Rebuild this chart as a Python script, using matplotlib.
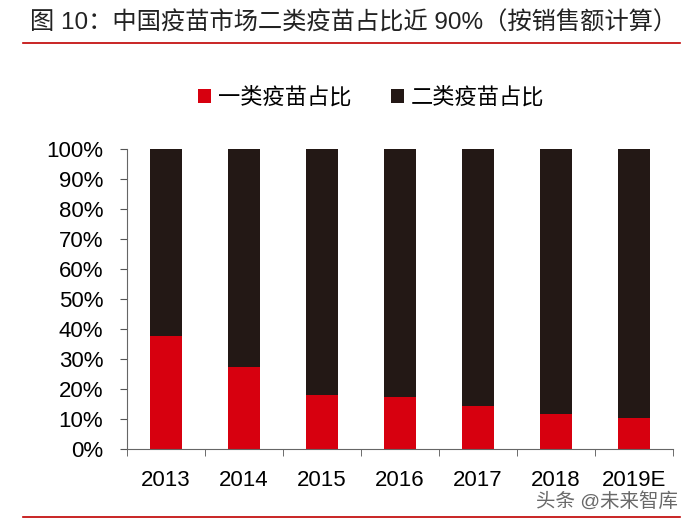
import numpy as np
import matplotlib.pyplot as plt
from matplotlib.lines import Line2D

plt.rcParams['font.family'] = ['Liberation Sans', 'Noto Sans CJK SC', 'DejaVu Sans']

# data (percent of sales)
years = ['2013', '2014', '2015', '2016', '2017', '2018', '2019E']
class1 = [37.7, 27.4, 18.0, 17.4, 14.5, 11.6, 10.3]
class2 = [100 - v for v in class1]
labels = ['一类疫苗占比', '二类疫苗占比']
colors = ['#D7000F', '#231815']

fig = plt.figure(figsize=(7, 5.22), dpi=100)
ax = fig.add_axes([0.1814, 0.1398, 0.78, 0.5747])

x = np.arange(len(years))
ax.bar(x, class1, width=0.4, color=colors[0], label=labels[0])
ax.bar(x, class2, width=0.4, bottom=class1, color=colors[1], label=labels[1])

ax.set_xlim(-0.5, len(years) - 0.5)
ax.set_ylim(0, 100)
ax.set_yticks(np.arange(0, 101, 10))
ax.set_yticklabels([f'{v}%' for v in range(0, 101, 10)], fontsize=16)
ax.set_xticks(x)
ax.set_xticklabels(years, fontsize=16)
ax.set_xticks(np.arange(-0.5, len(years), 1), minor=True)
ax.tick_params(axis='x', which='major', length=0, pad=15)
ax.tick_params(axis='x', which='minor', length=5, color='#555555')
ax.tick_params(axis='y', length=5, color='#555555', pad=12)
for s in ['top', 'right']:
    ax.spines[s].set_visible(False)
for s in ['left', 'bottom']:
    ax.spines[s].set_color('#666666')

ax.legend(loc='center', bbox_to_anchor=(0.447, 1.17), ncol=2, frameon=False,
          fontsize=16, handlelength=0.6, handleheight=0.6, handletextpad=0.3,
          columnspacing=1.8)

# title and decorations
fig.text(0.043, 0.956, '图 10：中国疫苗市场二类疫苗占比近 90%（按销售额计算）',
         fontsize=17.5, color='#222222', va='center', ha='left')
fig.add_artist(Line2D([0.033, 0.972], [0.917, 0.917], color='#C00000', lw=1.2))
fig.add_artist(Line2D([0.033, 0.972], [0.01, 0.01], color='#C00000', lw=1.2))
fig.text(0.765, 0.04, '头条 @未来智库', fontsize=14, color='#444444', alpha=0.8,
         va='center', ha='left')

fig.savefig('out.png', dpi=100)
